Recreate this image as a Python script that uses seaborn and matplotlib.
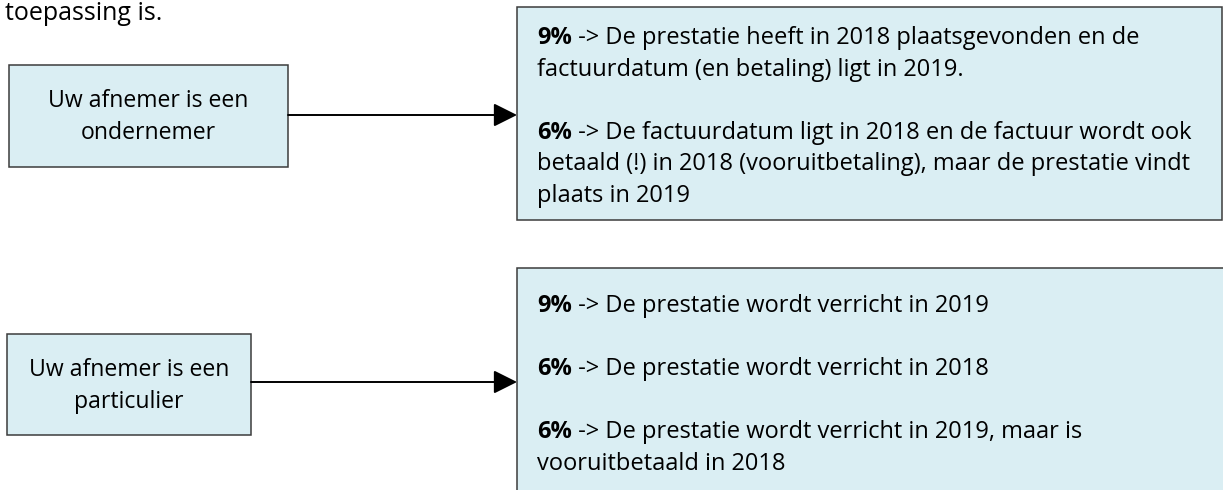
import matplotlib.pyplot as plt
import seaborn as sns
from matplotlib.patches import Rectangle, FancyArrowPatch

# text content of the diagram
intro_text = "toepassing is."
left_labels = [["Uw afnemer is een", "ondernemer"],
               ["Uw afnemer is een", "particulier"]]
right_bold = [["9%", "6%"],
              ["9%", "6%", "6%"]]
right_lines = [[[" -> De prestatie heeft in 2018 plaatsgevonden en de",
                 "factuurdatum (en betaling) ligt in 2019."],
                [" -> De factuurdatum ligt in 2018 en de factuur wordt ook",
                 "betaald (!) in 2018 (vooruitbetaling), maar de prestatie vindt",
                 "plaats in 2019"]],
               [[" -> De prestatie wordt verricht in 2019"],
                [" -> De prestatie wordt verricht in 2018"],
                [" -> De prestatie wordt verricht in 2019, maar is",
                 "vooruitbetaald in 2018"]]]

sns.set_theme(style="white")
plt.rcParams['font.family'] = ['Open Sans', 'DejaVu Sans']

FILL = "#daeef3"
EDGE = "#3c3c3c"
PITCH = 31.5

fig = plt.figure(figsize=(12.23, 4.9), dpi=100)
ax = fig.add_axes([0, 0, 1, 1])
ax.set_xlim(0, 1223)
ax.set_ylim(490, 0)
ax.axis('off')
renderer = fig.canvas.get_renderer()


def fit_size(s, target_px, **kw):
    # font size that gives the string the width it has in the picture
    t = ax.text(0, 0, s, fontsize=10, **kw)
    w = t.get_window_extent(renderer).width
    t.remove()
    return 10 * target_px / w


FS_R = fit_size(right_lines[0][1][1], 653)
FS_L = fit_size(left_labels[0][0], 200)
FS_I = fit_size(intro_text, 158)

ax.text(5, 20, intro_text, fontsize=FS_I, color="black", va='baseline', ha='left')

# left boxes (x0, y0, x1, y1) and arrow rows
left_boxes = [(9, 65, 288, 167), (7, 334, 251, 435)]
right_boxes = [(517, 7, 1222, 220), (517, 268, 1240, 500)]
arrow_y = [115, 382]
first_base = [44, 312]

for i in range(2):
    x0, y0, x1, y1 = left_boxes[i]
    ax.add_patch(Rectangle((x0, y0), x1 - x0, y1 - y0, facecolor=FILL,
                           edgecolor=EDGE, linewidth=1.1))
    cx = (x0 + x1) / 2
    cy = (y0 + y1) / 2
    ax.text(cx, cy - 16 + 7, left_labels[i][0], fontsize=FS_L,
            ha='center', va='baseline', color="black")
    ax.text(cx, cy + 16 + 7, left_labels[i][1], fontsize=FS_L,
            ha='center', va='baseline', color="black")

    rx0, ry0, rx1, ry1 = right_boxes[i]
    ax.add_patch(Rectangle((rx0, ry0), rx1 - rx0, ry1 - ry0, facecolor=FILL,
                           edgecolor=EDGE, linewidth=1.1))

    arr = FancyArrowPatch((x1, arrow_y[i]), (rx0, arrow_y[i]),
                          arrowstyle="-|>,head_length=0.9,head_width=0.45",
                          mutation_scale=16, color="black", linewidth=1.4,
                          shrinkA=0, shrinkB=0)
    ax.add_patch(arr)

    y = first_base[i]
    tx = rx0 + 20
    for bold, lines in zip(right_bold[i], right_lines[i]):
        t = ax.text(tx, y, bold, fontsize=FS_R, fontweight='bold',
                    va='baseline', ha='left', color="black")
        w = t.get_window_extent(renderer).width
        ax.text(tx + w, y, lines[0], fontsize=FS_R, va='baseline', ha='left',
                color="black")
        for extra in lines[1:]:
            y += PITCH
            ax.text(tx, y, extra, fontsize=FS_R, va='baseline', ha='left',
                    color="black")
        y += 2 * PITCH

fig.savefig("out.png", dpi=100)
